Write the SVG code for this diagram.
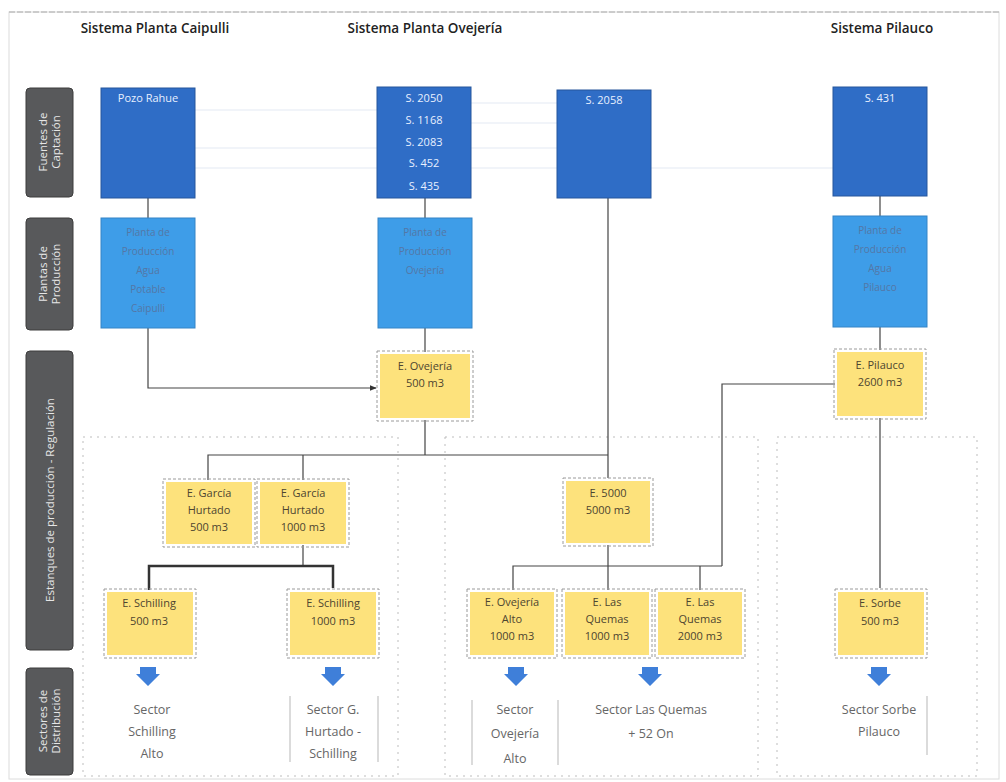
<svg xmlns="http://www.w3.org/2000/svg" width="1006" height="782" viewBox="0 0 1006 782">
<defs>
<marker id="ah" viewBox="0 0 10 10" refX="9" refY="5" markerWidth="6" markerHeight="6" orient="auto"><path d="M0,1 L10,5 L0,9 z" fill="#333"/></marker>
<path id="barrow" d="M-8,-10 L8,-10 L8,-3 L12,-3 L0,9 L-12,-3 L-8,-3 z"/>
</defs>
<style>
text{font-family:"Open Sans","Liberation Sans",sans-serif}
.hdr{font-size:13.5px;fill:#222;text-anchor:middle;font-weight:600}
.lab rect{fill:#58595b;stroke:#3d3d3d;stroke-width:1}
.lab text{font-size:11.5px;fill:#e6e6e6;text-anchor:middle}
.src rect{fill:#2f6dc6;stroke:#27579c;stroke-width:1}
.src text{font-size:11px;fill:#e8f0ff;text-anchor:middle}
.pl rect{fill:#3e9de8;stroke:#3584c6;stroke-width:1}
.pl text{font-size:10px;fill:#5477a6;text-anchor:middle}
.tk rect.f{fill:#fde27c}
.tk rect.o{fill:none;stroke:#9a9a9a;stroke-width:1;stroke-dasharray:3 2}
.tk text{font-size:11px;fill:#4d4530;text-anchor:middle}
.sec text{font-size:12.5px;fill:#666;text-anchor:middle}
.bar{stroke:#cfcfcf;stroke-width:1.5}
.zone{fill:none;stroke:#bdbdbd;stroke-width:1;stroke-dasharray:2 5}
.ghost{stroke:#e3eaf4;stroke-width:1.2}
.c{fill:none;stroke:#444;stroke-width:1.2}
.ct{fill:none;stroke:#333;stroke-width:2.5}
.ba{fill:#3f7fd9}
</style>
<rect width="1006" height="782" fill="#fff"/>
<rect x="9" y="12" width="990" height="767" fill="none" stroke="#dcdcdc" stroke-width="1"/>
<line x1="9" y1="12" x2="999" y2="12" stroke="#aaa" stroke-width="1" stroke-dasharray="6 2"/>

<text class="hdr" x="155" y="33">Sistema Planta Caipulli</text>
<text class="hdr" x="425" y="33">Sistema Planta Ovejería</text>
<text class="hdr" x="882" y="33">Sistema Pilauco</text>

<g id="zones">
<rect class="zone" x="83" y="437" width="315" height="339"/>
<rect class="zone" x="445" y="437" width="313" height="339"/>
<rect class="zone" x="777" y="437" width="200" height="339"/>
</g>

<g id="ghost-lines">
<line class="ghost" x1="195" y1="110" x2="377" y2="110"/>
<line class="ghost" x1="195" y1="148" x2="377" y2="148"/>
<line class="ghost" x1="195" y1="168" x2="377" y2="168"/>
<line class="ghost" x1="471" y1="103" x2="557" y2="103"/>
<line class="ghost" x1="471" y1="123" x2="557" y2="123"/>
<line class="ghost" x1="471" y1="148" x2="557" y2="148"/>
<line class="ghost" x1="471" y1="168" x2="557" y2="168"/>
<line class="ghost" x1="651" y1="168" x2="833" y2="168"/>
</g>

<g id="lab-fuentes" class="lab"><rect x="26" y="88" width="47" height="109" rx="4"/><text transform="translate(49.5,142) rotate(-90)"><tspan x="0" y="-3">Fuentes de</tspan><tspan x="0" y="10">Captación</tspan></text></g>
<g id="lab-plantas" class="lab"><rect x="26" y="218" width="47" height="112" rx="4"/><text transform="translate(49.5,274) rotate(-90)"><tspan x="0" y="-3">Plantas de</tspan><tspan x="0" y="10">Producción</tspan></text></g>
<g id="lab-estanques" class="lab"><rect x="26" y="351" width="47" height="299" rx="4"/><text transform="translate(49.5,500) rotate(-90)" y="4">Estanques de producción - Regulación</text></g>
<g id="lab-sectores" class="lab"><rect x="26" y="668" width="47" height="107" rx="4"/><text transform="translate(49.5,721) rotate(-90)"><tspan x="0" y="-3">Sectores de</tspan><tspan x="0" y="10">Distribución</tspan></text></g>

<g id="connectors">
<line class="c" x1="148" y1="198" x2="148" y2="218"/>
<polyline class="c" points="148,328 148,388 376,388" marker-end="url(#ah)"/>
<line class="c" x1="425" y1="198" x2="425" y2="218"/>
<line class="c" x1="425" y1="328" x2="425" y2="352"/>
<line class="c" x1="425" y1="420" x2="425" y2="455"/>
<polyline class="c" points="208,480 208,455 608,455"/>
<line class="c" x1="303" y1="455" x2="303" y2="480"/>
<line class="c" x1="608" y1="198" x2="608" y2="478"/>
<line class="c" x1="880" y1="196" x2="880" y2="216"/>
<line class="c" x1="880" y1="327" x2="880" y2="350"/>
<polyline class="c" points="835,384 722,384 722,566"/>
<line class="c" x1="880" y1="418" x2="880" y2="588"/>
<line class="c" x1="303" y1="545" x2="303" y2="566"/>
<polyline class="ct" points="149,590 149,566 333,566 333,588"/>
<line class="c" x1="608" y1="545" x2="608" y2="590"/>
<polyline class="c" points="513,590 513,566 722,566"/>
<line class="c" x1="700" y1="566" x2="700" y2="590"/>
</g>

<g id="src-pozo" class="src"><rect x="101" y="88" width="94" height="110"/><text x="148" y="102">Pozo Rahue</text></g>
<g id="src-ovejeria" class="src"><rect x="377" y="87" width="94" height="111"/><text x="424" y="102">S. 2050</text><text x="424" y="124">S. 1168</text><text x="424" y="146">S. 2083</text><text x="424" y="167">S. 452</text><text x="424" y="190">S. 435</text></g>
<g id="src-2058" class="src"><rect x="557" y="90" width="94" height="108"/><text x="604" y="104">S. 2058</text></g>
<g id="src-431" class="src"><rect x="833" y="87" width="94" height="109"/><text x="880" y="102">S. 431</text></g>

<g id="pl-caipulli" class="pl"><rect x="101" y="218" width="94" height="110"/><text x="148" y="236">Planta de</text><text x="148" y="255">Producción</text><text x="148" y="274">Agua</text><text x="148" y="293">Potable</text><text x="148" y="312">Caipulli</text></g>
<g id="pl-ovejeria" class="pl"><rect x="378" y="218" width="94" height="110"/><text x="425" y="236">Planta de</text><text x="425" y="255">Producción</text><text x="425" y="274">Ovejería</text></g>
<g id="pl-pilauco" class="pl"><rect x="833" y="216" width="94" height="111"/><text x="880" y="234">Planta de</text><text x="880" y="253">Producción</text><text x="880" y="272">Agua</text><text x="880" y="291">Pilauco</text></g>

<g id="tk-ovejeria" class="tk"><rect class="f" x="380" y="354" width="90" height="64"/><rect class="o" x="377" y="351" width="96" height="70"/><text x="425" y="370">E. Ovejería</text><text x="425" y="387">500 m3</text></g>
<g id="tk-pilauco" class="tk"><rect class="f" x="837" y="352" width="86" height="64"/><rect class="o" x="834" y="349" width="92" height="70"/><text x="880" y="369">E. Pilauco</text><text x="880" y="386">2600 m3</text></g>
<g id="tk-gh500" class="tk"><rect class="f" x="166" y="482" width="86" height="62"/><rect class="o" x="163" y="479" width="92" height="68"/><text x="209" y="497">E. García</text><text x="209" y="514">Hurtado</text><text x="209" y="531">500 m3</text></g>
<g id="tk-gh1000" class="tk"><rect class="f" x="260" y="482" width="86" height="62"/><rect class="o" x="257" y="479" width="92" height="68"/><text x="303" y="497">E. García</text><text x="303" y="514">Hurtado</text><text x="303" y="531">1000 m3</text></g>
<g id="tk-sch500" class="tk"><rect class="f" x="107" y="592" width="86" height="63"/><rect class="o" x="104" y="589" width="92" height="69"/><text x="149" y="607">E. Schilling</text><text x="149" y="625">500 m3</text></g>
<g id="tk-sch1000" class="tk"><rect class="f" x="290" y="592" width="86" height="63"/><rect class="o" x="287" y="589" width="92" height="69"/><text x="333" y="607">E. Schilling</text><text x="333" y="625">1000 m3</text></g>
<g id="tk-5000" class="tk"><rect class="f" x="566" y="481" width="84" height="62"/><rect class="o" x="563" y="478" width="90" height="68"/><text x="608" y="497">E. 5000</text><text x="608" y="514">5000 m3</text></g>
<g id="tk-ovalto" class="tk"><rect class="f" x="470" y="592" width="84" height="63"/><rect class="o" x="467" y="589" width="90" height="69"/><text x="512" y="606">E. Ovejería</text><text x="512" y="623">Alto</text><text x="512" y="640">1000 m3</text></g>
<g id="tk-lq1000" class="tk"><rect class="f" x="565" y="592" width="84" height="63"/><rect class="o" x="562" y="589" width="90" height="69"/><text x="607" y="606">E. Las</text><text x="607" y="623">Quemas</text><text x="607" y="640">1000 m3</text></g>
<g id="tk-lq2000" class="tk"><rect class="f" x="658" y="592" width="84" height="63"/><rect class="o" x="655" y="589" width="90" height="69"/><text x="700" y="606">E. Las</text><text x="700" y="623">Quemas</text><text x="700" y="640">2000 m3</text></g>
<g id="tk-sorbe" class="tk"><rect class="f" x="838" y="592" width="86" height="63"/><rect class="o" x="835" y="589" width="92" height="69"/><text x="880" y="607">E. Sorbe</text><text x="880" y="625">500 m3</text></g>

<g id="arrows">
<use href="#barrow" class="ba" x="148" y="677"/>
<use href="#barrow" class="ba" x="333" y="677"/>
<use href="#barrow" class="ba" x="516" y="677"/>
<use href="#barrow" class="ba" x="650" y="677"/>
<use href="#barrow" class="ba" x="879" y="677"/>
</g>

<g id="sec-schalto" class="sec"><text x="152" y="714">Sector</text><text x="152" y="736">Schilling</text><text x="152" y="758">Alto</text></g>
<g id="sec-gh" class="sec"><line class="bar" x1="290" y1="696" x2="290" y2="762"/><line class="bar" x1="378" y1="696" x2="378" y2="762"/><text x="333" y="714">Sector G.</text><text x="333" y="736">Hurtado -</text><text x="333" y="758">Schilling</text></g>
<g id="sec-ovalto" class="sec"><line class="bar" x1="472" y1="700" x2="472" y2="765"/><line class="bar" x1="558" y1="700" x2="558" y2="765"/><text x="515" y="714">Sector</text><text x="515" y="738">Ovejería</text><text x="515" y="763">Alto</text></g>
<g id="sec-lq" class="sec"><text x="651" y="714">Sector Las Quemas</text><text x="651" y="738">+ 52 On</text></g>
<g id="sec-sorbe" class="sec"><line class="bar" x1="927" y1="696" x2="927" y2="755"/><text x="879" y="714">Sector Sorbe</text><text x="879" y="736">Pilauco</text></g>
</svg>
